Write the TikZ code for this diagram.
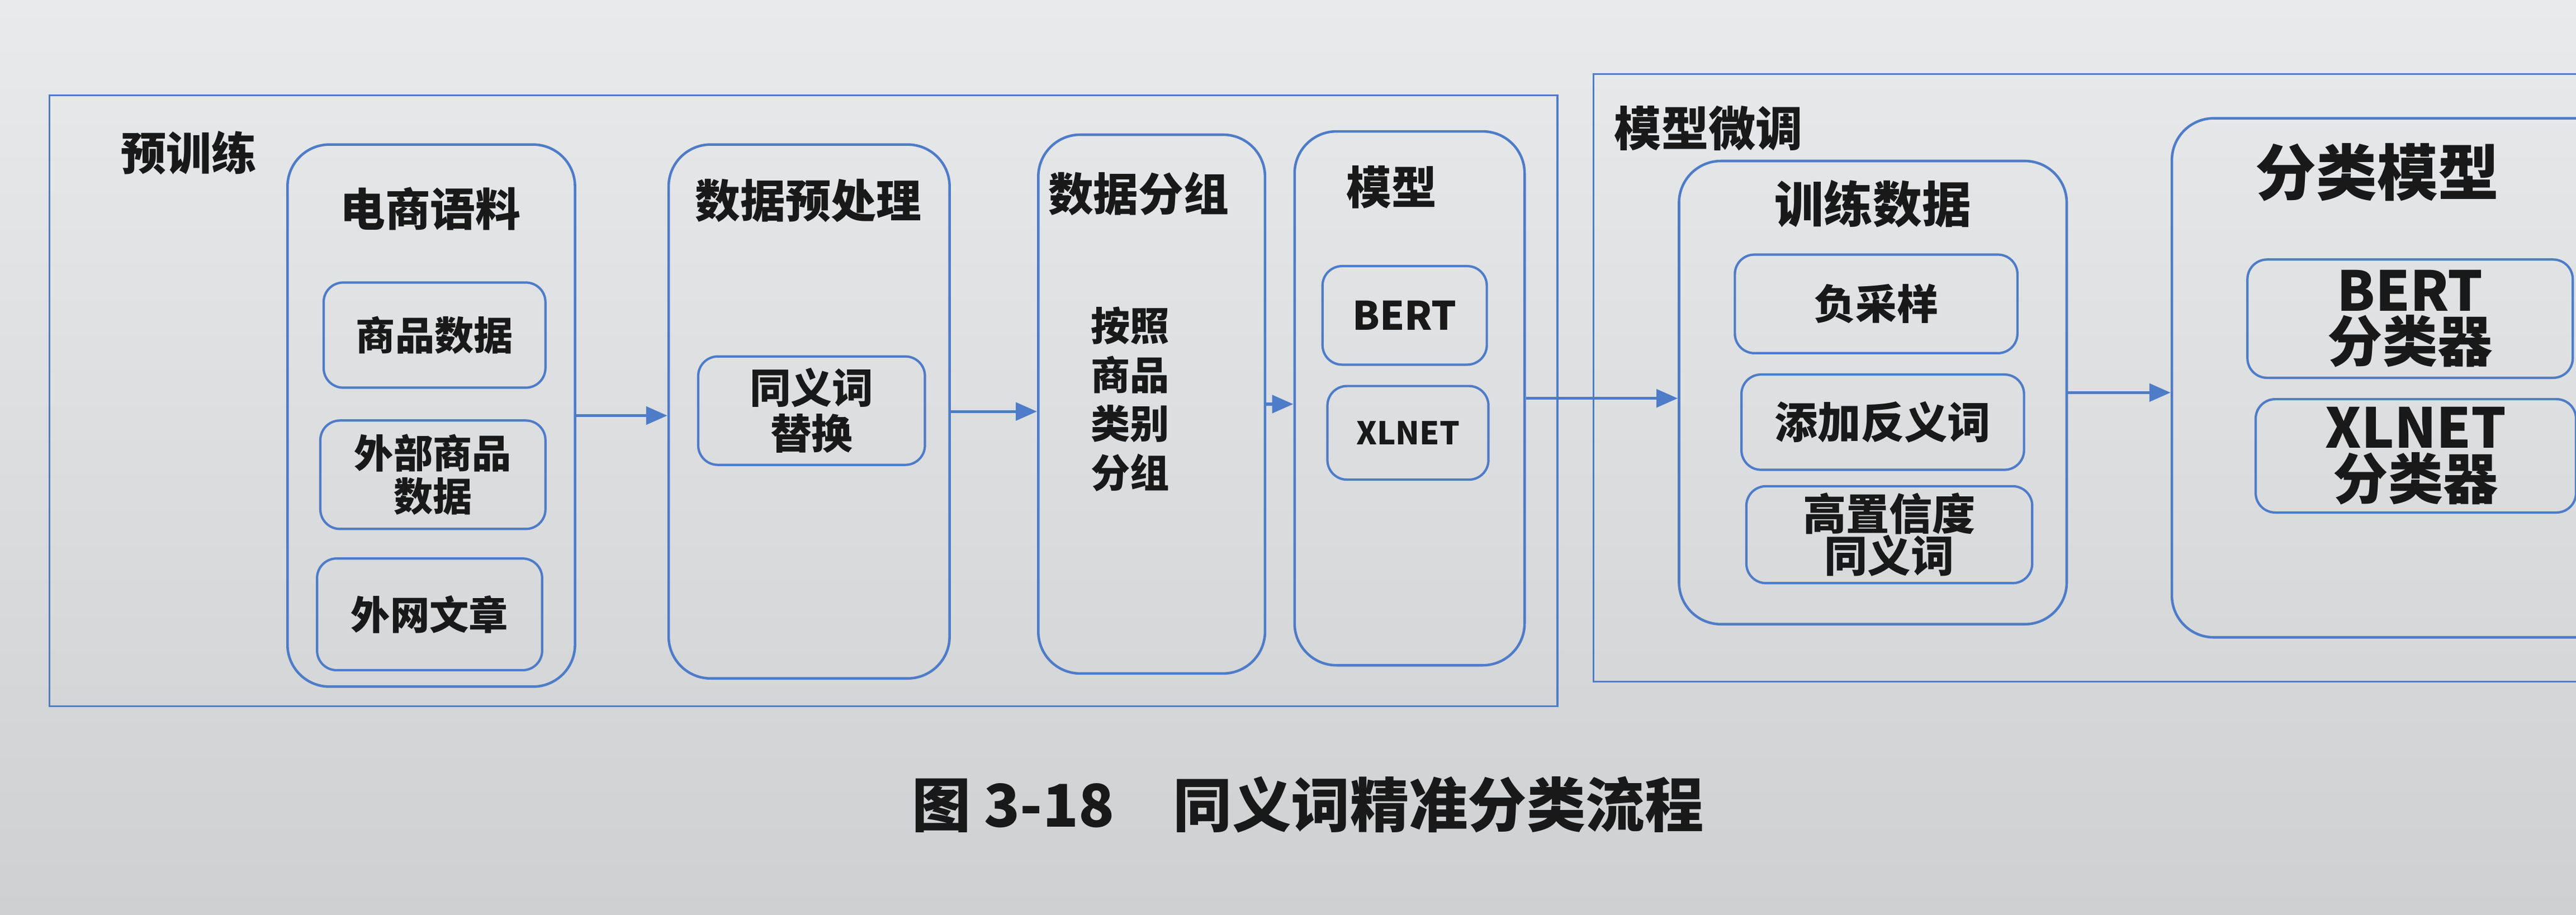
\documentclass[tikz,border=0pt]{standalone}
\usepackage{fontspec}
\setmainfont{Noto Sans CJK SC}
\usetikzlibrary{arrows.meta}

\definecolor{lineblue}{RGB}{78,124,200}
\definecolor{papertop}{RGB}{232,234,236}
\definecolor{paperbot}{RGB}{206,208,210}
\definecolor{ink}{RGB}{25,25,25}

\newcommand\px{0.0294cm}
\newcommand\fs[1]{\bfseries\fontsize{#1}{\dimexpr #1pt*5/4\relax}\selectfont}

\tikzset{
  size/.style 2 args={minimum width=#1*\px, minimum height=#2*\px, inner sep=0pt},
  panel/.style={draw=lineblue, line width=0.9pt},
  stagebox/.style={draw=lineblue, line width=1.3pt, rounded corners=0.75cm},
  itembox/.style={draw=lineblue, line width=1.2pt, rounded corners=0.35cm,
    text=ink, align=center},
  title/.style={text=ink, inner sep=0pt, align=center},
  pt/.style={font=\fs{#1}},
  flow/.style={draw=lineblue, line width=1.5pt,
    -{Triangle[length=0.38cm, width=0.32cm]}}
}

\begin{document}
\begin{tikzpicture}[x=\px, y=-\px]
\useasboundingbox (0,0) rectangle (1568,557);
\shade[top color=papertop, bottom color=paperbot] (0,0) rectangle (1568,557);
\begin{scope}
\clip (0,0) rectangle (1568,557);

% two big panels
\node[panel, size={918}{372}] (pretrain) at (489,244) {};
\node[panel, size={640}{370}] (finetune) at (1290,230) {};
\node[title, pt=23] (pretrainlbl) at (115,93) {预训练};
\node[title, pt=24] (finetunelbl) at (1040,78) {模型微调};

% stages
\node[stagebox, size={175}{330}] (corpus) at (262.5,253) {};
\node[stagebox, size={171}{325}] (prep) at (492.5,250.5) {};
\node[stagebox, size={138}{328}] (grouping) at (701,246) {};
\node[stagebox, size={140}{325}] (model) at (858,242.5) {};
\node[stagebox, size={236}{282}] (train) at (1140,239) {};
\node[stagebox, size={298}{316}] (clf) at (1471,230) {};

\node[title, pt=23] (corpuslbl) at (262,127) {电商语料};
\node[title, pt=23] (preplbl) at (492,122) {数据预处理};
\node[title, pt=23] (groupinglbl) at (693,118) {数据分组};
\node[title, pt=23] (modellbl) at (847,114) {模型};
\node[title, pt=25] (trainlbl) at (1140,124) {训练数据};
\node[title, pt=31] (clflbl) at (1447,105) {分类模型};

% items
\node[itembox, pt=20, size={135}{64}] (goods) at (264.5,204) {商品数据};
\node[itembox, pt=20, size={137}{66}] (extgoods) at (263.5,289) {外部商品\\[-3pt]数据};
\node[itembox, pt=20, size={137}{68}] (webtext) at (261.5,374) {外网文章};
\node[itembox, pt=21, size={138}{66}] (synrep) at (494,250) {同义词\\[-3pt]替换};
\node[title, pt=20] (bycat) at (688,243) {按照\\商品\\类别\\分组};
\node[itembox, pt=20, size={100}{60}] (bert) at (855,192) {BERT};
\node[itembox, pt=16, size={98}{57}] (xlnet) at (857,263.5) {XLNET};
\node[itembox, pt=21, size={172}{60}] (negsamp) at (1142,185) {负采样};
\node[itembox, pt=22, size={172}{58}] (antonym) at (1146,257) {添加反义词};
\node[itembox, pt=22, size={174}{59}] (highconf) at (1150,325.5) {高置信度\\[-6pt]同义词};
\node[itembox, pt=28, size={198}{72}] (bertclf) at (1467,194) {BERT\\[-9pt]分类器};
\node[itembox, pt=28, size={195}{69}] (xlnetclf) at (1470.5,277.5) {XLNET\\[-9pt]分类器};

% arrows
\draw[flow] (corpus.east) -- (corpus.east -| prep.west);
\draw[flow] (prep.east) -- (prep.east -| grouping.west);
\draw[flow] (grouping.east) -- (grouping.east -| model.west);
\draw[flow] (model.east) -- (model.east -| train.west);
\draw[flow] (train.east) -- (train.east -| clf.west);
\end{scope}

\node[title, pt=30] (caption) at (796,490) {图 3-18\quad 同义词精准分类流程};
\end{tikzpicture}
\end{document}
